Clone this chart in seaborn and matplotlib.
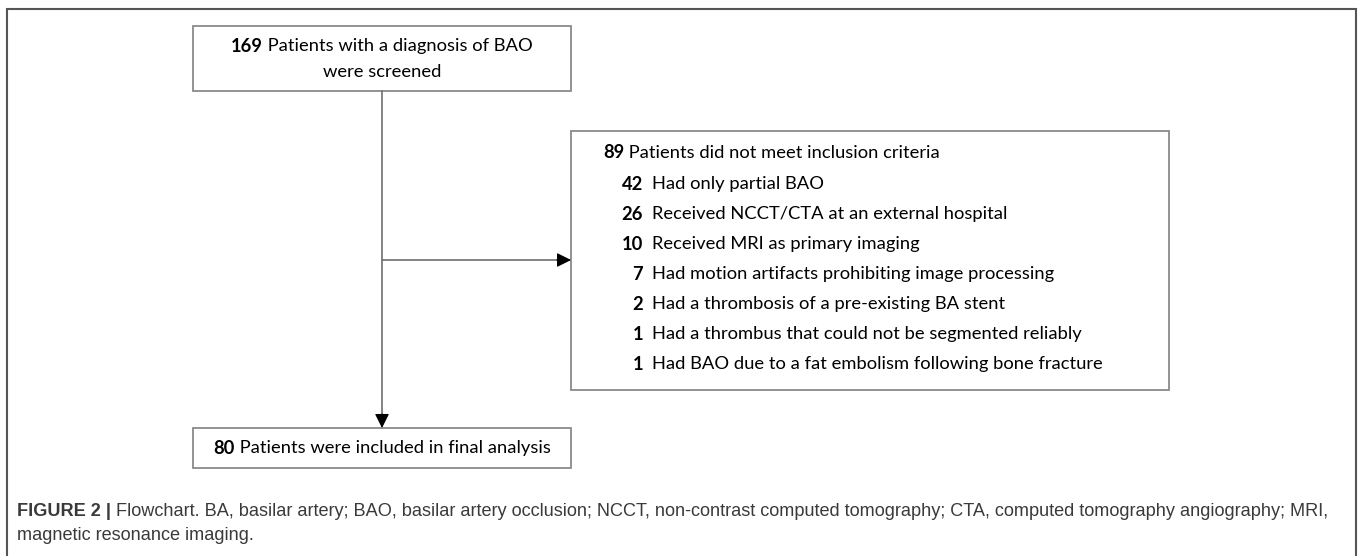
import matplotlib
matplotlib.use("Agg")
import matplotlib.pyplot as plt
import seaborn as sns
from matplotlib.patches import Rectangle

# Flowchart data
screened_n = 169
screened_text = ["Patients with a diagnosis of BAO", "were screened"]
excluded_n = 89
excluded_text = "Patients did not meet inclusion criteria"
reason_counts = [42, 26, 10, 7, 2, 1, 1]
reason_labels = [
    "Had only partial BAO",
    "Received NCCT/CTA at an external hospital",
    "Received MRI as primary imaging",
    "Had motion artifacts prohibiting image processing",
    "Had a thrombosis of a pre-existing BA stent",
    "Had a thrombus that could not be segmented reliably",
    "Had BAO due to a fat embolism following bone fracture",
]
included_n = 80
included_text = "Patients were included in final analysis"
caption_bold = "FIGURE 2 |"
caption_lines = [
    " Flowchart. BA, basilar artery; BAO, basilar artery occlusion; NCCT, non-contrast "
    "computed tomography; CTA, computed tomography angiography; MRI,",
    "magnetic resonance imaging.",
]

sns.set_theme(style="white")
W, H = 1358, 556
fig = plt.figure(figsize=(W / 100, H / 100), dpi=100)
ax = fig.add_axes([0, 0, 1, 1])
ax.set_xlim(0, W)
ax.set_ylim(H, 0)
ax.axis("off")
renderer = fig.canvas.get_renderer()

BOX_FONT = "Lato"
CAP_FONT = "Liberation Sans"
FS = 13.2
BOX_EDGE = "#8a8a8a"


def box(x0, y0, x1, y1):
    ax.add_patch(Rectangle((x0, y0), x1 - x0, y1 - y0, fill=False,
                           edgecolor=BOX_EDGE, linewidth=1.3))


def width_of(t):
    bb = t.get_window_extent(renderer=renderer)
    return bb.width


def runs(x, y, parts, family, size, color, center=False):
    # parts: list of (text, weight)
    texts = [ax.text(0, y, s, fontsize=size, fontweight=w, family=family,
                     color=color, va="center", ha="left") for s, w in parts]
    widths = [width_of(t) for t in texts]
    start = x - sum(widths) / 2 if center else x
    for t, w in zip(texts, widths):
        t.set_x(start)
        start += w


# outer frame
ax.plot([7, 7, 1356, 1356], [H + 5, 9, 9, H + 5], color="#555555", lw=1.5,
        solid_joinstyle="miter")

# top box
box(193, 26, 571, 91)
runs(382, 46, [(str(screened_n), "bold"), (" " + screened_text[0], "normal")],
     BOX_FONT, FS, "black", center=True)
runs(382, 72, [(screened_text[1], "normal")], BOX_FONT, FS, "black", center=True)

# exclusion box
box(571, 131, 1169, 390)
runs(603, 153, [(str(excluded_n), "bold"), (" " + excluded_text, "normal")],
     BOX_FONT, FS, "black")
for i, (n, lab) in enumerate(zip(reason_counts, reason_labels)):
    y = 184 + i * 30
    ax.text(643, y, str(n), fontsize=FS, fontweight="bold", family=BOX_FONT,
            ha="right", va="center", color="black")
    ax.text(652, y, lab, fontsize=FS, family=BOX_FONT, ha="left", va="center",
            color="black")

# included box
box(193, 428, 571, 468)
runs(382, 448, [(str(included_n), "bold"), (" " + included_text, "normal")],
     BOX_FONT, FS, "black", center=True)

# connectors
ax.plot([382, 382], [91, 416], color="#6e6e6e", lw=1.2)
ax.plot([382, 559], [260, 260], color="#6e6e6e", lw=1.2)
ax.annotate("", xy=(382, 428), xytext=(382, 414),
            arrowprops=dict(arrowstyle="-|>", color="black", lw=0.8,
                            mutation_scale=22, shrinkA=0, shrinkB=0))
ax.annotate("", xy=(571, 260), xytext=(557, 260),
            arrowprops=dict(arrowstyle="-|>", color="black", lw=0.8,
                            mutation_scale=22, shrinkA=0, shrinkB=0))

# caption
runs(17, 512, [(caption_bold, "bold"), (caption_lines[0], "normal")],
     CAP_FONT, 13.1, "#3a3a3a")
runs(17, 536, [(caption_lines[1], "normal")], CAP_FONT, 13.1, "#3a3a3a")

fig.savefig("out.png", dpi=100)
